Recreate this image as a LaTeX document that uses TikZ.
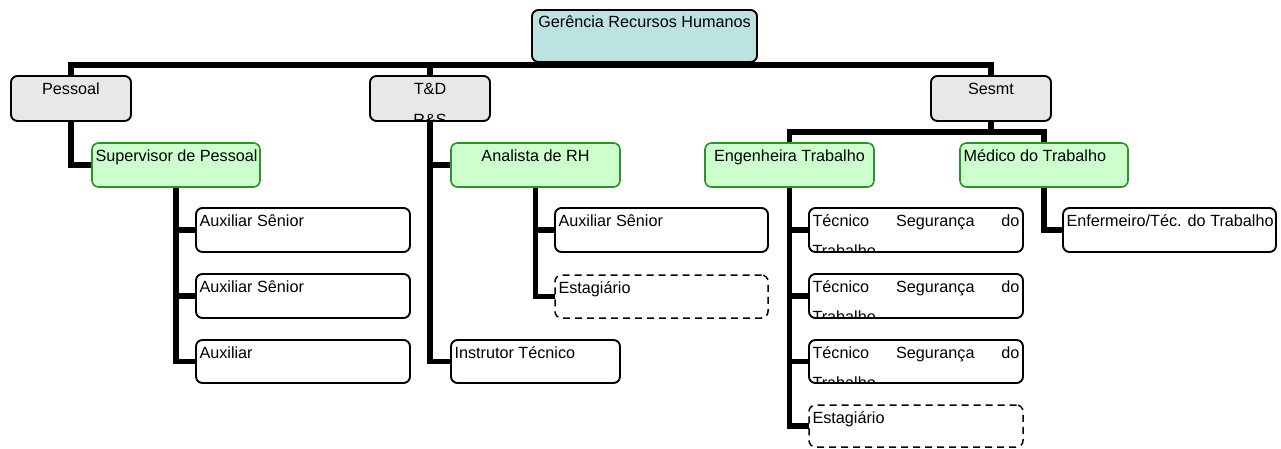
\documentclass[tikz,border=0pt]{standalone}
\usepackage{fontspec}
\setmainfont{Liberation Sans}
\usetikzlibrary{backgrounds}

\definecolor{headfill}{RGB}{189,226,226}
\definecolor{deptfill}{RGB}{232,232,232}
\definecolor{leadfill}{RGB}{204,255,204}
\definecolor{leadline}{RGB}{45,145,45}

\tikzset{
  box/.style={draw=black, line width=1.9pt, rounded corners=6.5pt, fill=white,
              inner sep=0pt, outer sep=0pt, anchor=north west},
  headbox/.style={box, fill=headfill},
  deptbox/.style={box, fill=deptfill},
  leadbox/.style={box, draw=leadline, line width=1.6pt, fill=leadfill},
  tempbox/.style={box, dash pattern=on 7pt off 5pt, line width=1.5pt},
  conn/.style={draw=black, line width=5.5pt},
  lbl/.style={inner sep=0pt, outer sep=0pt, font=\fontsize{16.2pt}{19pt}\selectfont},
}

% \orgbox{name}{style}{x1}{y1}{x2}{y2}: a box from its top-left to its bottom-right corner
\newcommand\orgbox[6]{%
  \node[#2, minimum width=#5pt-#3pt, minimum height=#6pt-#4pt] (#1) at (#3,#4) {};}
% text lines: left aligned, or centred, with the first baseline 18.5 below the top edge
\newcommand\lefttext[3][0]{%
  \node[lbl, anchor=base west] at ([xshift=3.5pt, yshift=-18.5pt-#1pt]#2.north west) {#3};}
\newcommand\midtext[3][0]{%
  \node[lbl, anchor=base] at ([yshift=-18.5pt-#1pt]#2.north) {#3};}
% clip to the inside of a box
\newcommand\clipinside[1]{%
  \clip ([xshift=1pt, yshift=-1pt]#1.north west) rectangle ([xshift=-1pt, yshift=1pt]#1.south east);}

\begin{document}
\begin{tikzpicture}[x=1pt, y=-1pt]
\useasboundingbox (0,0) rectangle (1281,449);

% ---- boxes ----
\orgbox{head}{headbox}{532}{10}{757}{62}

\orgbox{pes}{deptbox}{11}{76}{131}{121}
\orgbox{td}{deptbox}{370}{76}{490}{121}
\orgbox{ses}{deptbox}{931}{76}{1051}{121}

\orgbox{sup}{leadbox}{92}{143}{260}{187}
\orgbox{ana}{leadbox}{451}{143}{620}{187}
\orgbox{eng}{leadbox}{705}{143}{874}{187}
\orgbox{med}{leadbox}{960}{143}{1128}{187}

\orgbox{auxA}{box}{196}{208}{410}{252}
\orgbox{auxB}{box}{196}{274}{410}{318}
\orgbox{auxC}{box}{196}{340}{410}{383}

\orgbox{auxD}{box}{555}{208}{768}{252}
\orgbox{estA}{tempbox}{555}{275}{768}{318}
\orgbox{ins}{box}{451}{340}{620}{383}

\orgbox{tecA}{box}{809}{208}{1023}{252}
\orgbox{tecB}{box}{809}{274}{1023}{318}
\orgbox{tecC}{box}{809}{340}{1023}{383}
\orgbox{estB}{tempbox}{809}{405}{1023}{447}

\orgbox{enf}{box}{1063}{208}{1276}{252}

% ---- connectors ----
\coordinate (bar) at (0,65);
\coordinate (sesbar) at (0,132);
\begin{scope}[on background layer]
  \draw[conn] (pes.north) -- (pes.north |- bar) -- (ses.north |- bar) -- (ses.north);
  \draw[conn] (head.south) -- (head.south |- bar);
  \draw[conn] (td.north) -- (td.north |- bar);

  \draw[conn] (pes.south) |- (sup.west);
  \draw[conn] (sup.south) |- (auxA.west);
  \draw[conn] (sup.south) |- (auxB.west);
  \draw[conn] (sup.south) |- (auxC.west);

  \draw[conn] (td.south) |- (ana.west);
  \draw[conn] (td.south) |- (ins.west);
  \draw[conn] (ana.south) |- (auxD.west);
  \draw[conn] (ana.south) |- (estA.west);

  \draw[conn] (ses.south) -- (ses.south |- sesbar);
  \draw[conn] (eng.north) -- (eng.north |- sesbar) -- (med.north |- sesbar) -- (med.north);
  \draw[conn] (eng.south) |- (tecA.west);
  \draw[conn] (eng.south) |- (tecB.west);
  \draw[conn] (eng.south) |- (tecC.west);
  \draw[conn] (eng.south) |- (estB.west);
  \draw[conn] (med.south) |- (enf.west);
\end{scope}

% ---- texts ----
\midtext[-1]{head}{Gerência Recursos Humanos}
\midtext{pes}{Pessoal}
\begin{scope}
  \clipinside{td}
  \midtext{td}{T\&D}
  \midtext[31]{td}{R\&S}
\end{scope}
\midtext{ses}{Sesmt}

\lefttext{sup}{Supervisor de Pessoal}
\midtext{ana}{Analista de RH}
\midtext{eng}{Engenheira Trabalho}
\lefttext{med}{Médico do Trabalho}

\lefttext{auxA}{Auxiliar Sênior}
\lefttext{auxB}{Auxiliar Sênior}
\lefttext{auxC}{Auxiliar}

\lefttext{auxD}{Auxiliar Sênior}
\lefttext{estA}{Estagiário}
\lefttext{ins}{Instrutor Técnico}

\foreach \t in {tecA,tecB,tecC}{
  \begin{scope}
    \clipinside{\t}
    \lefttext{\t}{\makebox[207pt][s]{Técnico Segurança do}}
    \lefttext[30]{\t}{Trabalho}
  \end{scope}
}
\lefttext{estB}{Estagiário}
\lefttext{enf}{Enfermeiro/Téc. do Trabalho}

\end{tikzpicture}
\end{document}
